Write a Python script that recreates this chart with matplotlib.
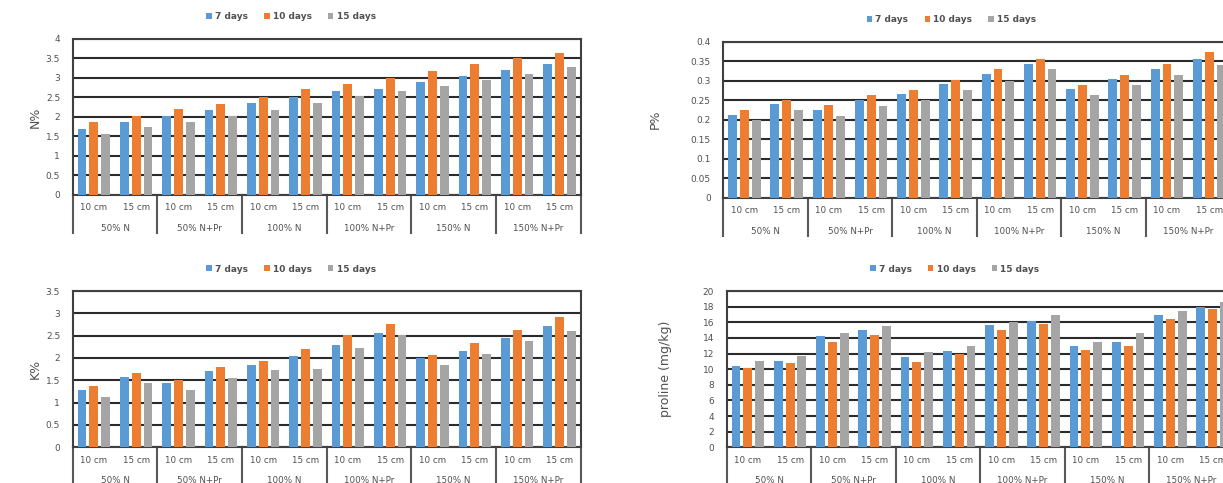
import matplotlib.pyplot as plt
import matplotlib.transforms as mtransforms
import numpy as np

plt.rcParams['font.family'] = ['DejaVu Sans']

groups = ['50% N', '50% N+Pr', '100% N', '100% N+Pr', '150% N', '150% N+Pr']
depths = ['10 cm', '15 cm']
series = ['7 days', '10 days', '15 days']
colors = ['#5B9BD5', '#ED7D31', '#A5A5A5']

# values ordered: 50%N 10cm, 50%N 15cm, 50%N+Pr 10cm, ... 150%N+Pr 15cm
n_7 = [1.70, 1.87, 2.03, 2.18, 2.36, 2.51, 2.66, 2.73, 2.89, 3.04, 3.21, 3.36]
n_10 = [1.86, 2.03, 2.20, 2.33, 2.51, 2.72, 2.85, 3.00, 3.18, 3.36, 3.50, 3.64]
n_15 = [1.56, 1.74, 1.88, 2.03, 2.19, 2.37, 2.54, 2.66, 2.80, 2.95, 3.09, 3.28]

p_7 = [0.213, 0.240, 0.226, 0.251, 0.265, 0.292, 0.318, 0.343, 0.278, 0.305, 0.330, 0.356]
p_10 = [0.225, 0.251, 0.237, 0.263, 0.276, 0.303, 0.330, 0.356, 0.289, 0.314, 0.342, 0.374]
p_15 = [0.200, 0.224, 0.210, 0.236, 0.250, 0.275, 0.300, 0.329, 0.263, 0.288, 0.315, 0.340]

k_7 = [1.28, 1.57, 1.44, 1.71, 1.85, 2.04, 2.30, 2.57, 1.99, 2.16, 2.44, 2.72]
k_10 = [1.37, 1.66, 1.51, 1.79, 1.93, 2.21, 2.51, 2.77, 2.07, 2.34, 2.63, 2.91]
k_15 = [1.13, 1.43, 1.29, 1.56, 1.72, 1.75, 2.23, 2.51, 1.85, 2.10, 2.37, 2.60]

pro_7 = [10.45, 11.1, 14.2, 14.95, 11.6, 12.3, 15.6, 16.15, 12.9, 13.5, 16.9, 18.0]
pro_10 = [10.2, 10.75, 13.5, 14.4, 10.9, 11.9, 15.0, 15.75, 12.5, 13.0, 16.45, 17.65]
pro_15 = [11.05, 11.7, 14.6, 15.5, 12.15, 12.9, 16.05, 16.9, 13.5, 14.65, 17.4, 18.6]

fig = plt.figure(figsize=(12.23, 4.83), dpi=100)

panels = [
    ([0.0594, 0.5963, 0.4154, 0.323], (n_7, n_10, n_15), 'N%', 4, 0.5, -0.06),
    ([0.5914, 0.5907, 0.4146, 0.323], (p_7, p_10, p_15), 'P%', 0.4, 0.05, -0.121),
    ([0.0594, 0.0739, 0.4154, 0.3236], (k_7, k_10, k_15), 'K%', 3.5, 0.5, -0.06),
    ([0.5942, 0.0739, 0.4146, 0.3236], (pro_7, pro_10, pro_15), 'proline (mg/kg)', 20, 2, -0.108),
]

x = np.arange(len(groups) * len(depths))
offsets = [-0.28, 0.0, 0.28]
txt = '#505050'

for rect, vals, ylab, ymax, step, labx in panels:
    ax = fig.add_axes(rect)
    for v, off, c, name in zip(vals, offsets, colors, series):
        ax.bar(x + off, v, width=0.21, color=c, label=name, zorder=3)
    ax.set_xlim(-0.5, 11.5)
    ax.set_ylim(0, ymax)
    ticks = np.arange(0, ymax + step / 2, step)
    ax.set_yticks(ticks)
    ax.set_yticklabels(['%g' % t for t in ticks])
    ax.yaxis.grid(True, color='#2b2b2b', lw=1.5, zorder=1)
    ax.set_axisbelow(True)
    for s in ax.spines.values():
        s.set_color('#404040')
        s.set_linewidth(1.5)
    ax.tick_params(axis='y', length=0, pad=9, labelsize=6.5, colors=txt)
    ax.set_xticks(x)
    ax.set_xticklabels(depths * len(groups))
    ax.tick_params(axis='x', length=0, pad=6, labelsize=6.3, colors=txt)
    ax.set_ylabel(ylab, fontsize=9, color=txt)
    ax.yaxis.set_label_coords(labx, 0.5)

    # category group dividers and labels
    trans = mtransforms.blended_transform_factory(ax.transData, ax.transAxes)
    for b in np.arange(-0.5, 12, 2):
        ax.plot([b, b], [0, -0.245], transform=trans, color='#595959', lw=1.5, clip_on=False)
    for i, g in enumerate(groups):
        ax.text(2 * i + 0.5, -0.215, g, transform=trans, ha='center', va='center',
                fontsize=6.3, color=txt)

    ax.legend(loc='lower center', bbox_to_anchor=(0.43 if rect[0] < 0.5 else 0.45, 1.06), ncol=3,
              frameon=False, prop={'size': 6.5, 'weight': 'bold'}, handlelength=0.6,
              handleheight=0.6, handletextpad=0.35, columnspacing=1.8, labelcolor=txt)

fig.savefig('out.png', dpi=100)
